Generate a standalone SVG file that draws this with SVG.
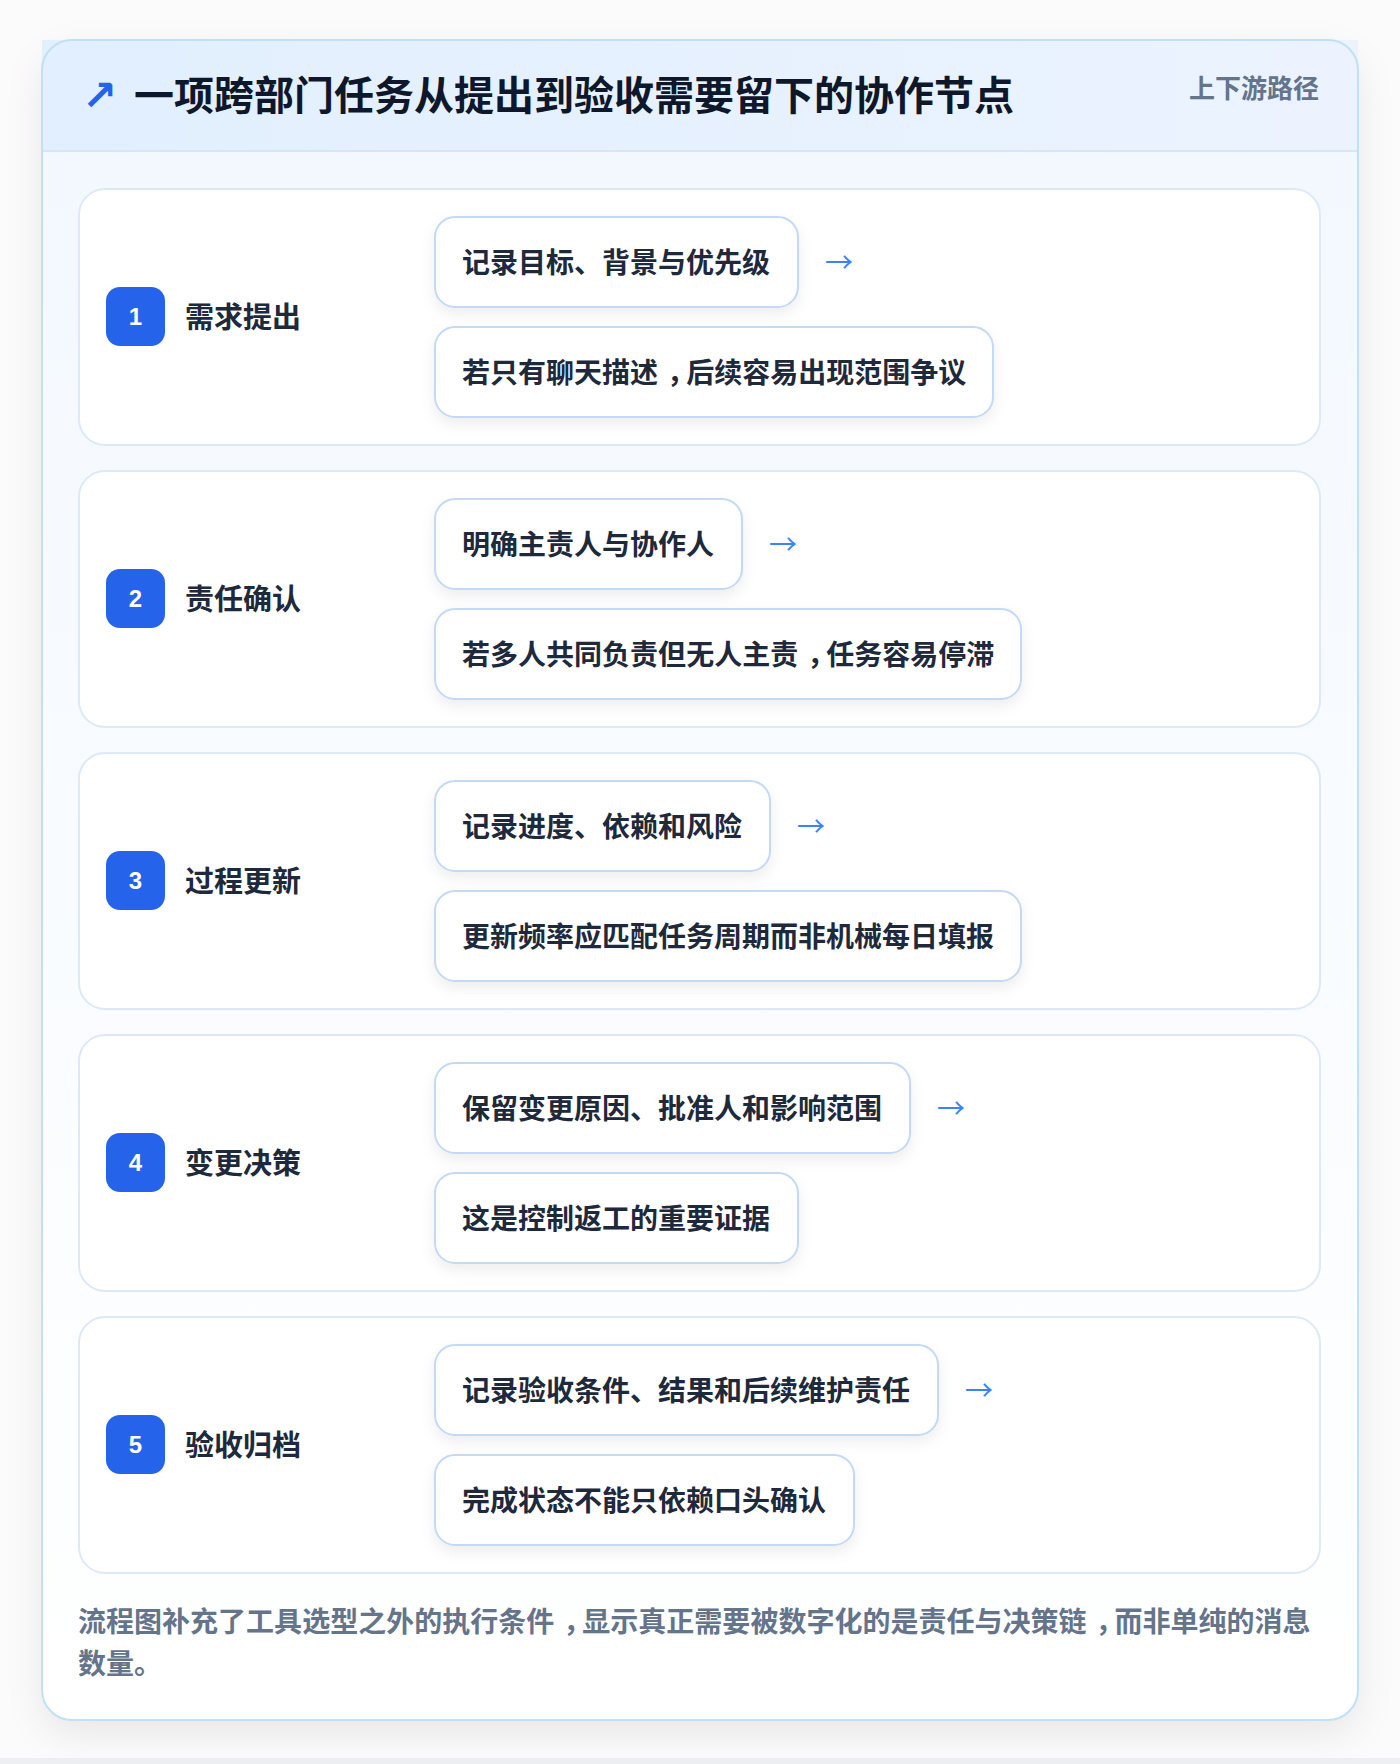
<svg xmlns="http://www.w3.org/2000/svg" width="1400" height="1764" viewBox="0 0 1400 1764">
<defs>
<linearGradient id="hdr" x1="0" y1="0" x2="1" y2="0"><stop offset="0" stop-color="#e1effe"/><stop offset="1" stop-color="#ecf3ff"/></linearGradient>
<linearGradient id="body" x1="0" y1="0" x2="0" y2="1"><stop offset="0" stop-color="#f2f8ff"/><stop offset="1" stop-color="#ffffff"/></linearGradient>
<filter id="cardShadow" x="-10%" y="-10%" width="120%" height="120%"><feDropShadow dx="0" dy="14" stdDeviation="18" flood-color="#0f172a" flood-opacity="0.08"/></filter>
<filter id="boxShadow" x="-10%" y="-20%" width="120%" height="150%"><feDropShadow dx="0" dy="6" stdDeviation="7" flood-color="#0f172a" flood-opacity="0.07"/></filter>
<style>
.row{fill:#ffffff;stroke:#dde9f8;stroke-width:2}
.box{fill:#ffffff;stroke:#c3d9f5;stroke-width:2;filter:url(#boxShadow)}
.badge{fill:#2563eb}
.num{font-family:"Liberation Sans",Arial,sans-serif;font-size:24px;font-weight:700;fill:#ffffff;text-anchor:middle}
.lbl{font-family:"Noto Sans CJK SC",sans-serif;font-size:29px;font-weight:700;fill:#1e293b}
.txt{font-family:"Noto Sans CJK SC",sans-serif;font-size:28px;font-weight:700;fill:#1e293b}
.arr{font-family:"Noto Sans CJK SC",sans-serif;font-size:28px;fill:#3b82f6}
.foot{font-family:"Noto Sans CJK SC",sans-serif;font-size:28px;font-weight:600;fill:#64748b}
</style>
</defs>
<rect x="0" y="0" width="1400" height="1764" fill="#fbfbfc"/>
<rect x="0" y="1758" width="1400" height="6" fill="#eeeff2"/>
<g id="card">
<rect x="42" y="40" width="1316" height="1680" rx="30" fill="url(#body)" filter="url(#cardShadow)"/>
<rect x="42" y="40" width="1316" height="111" fill="url(#hdr)"/>
<line x1="42" y1="151" x2="1358" y2="151" stroke="#d6e6f8" stroke-width="2"/>
<rect x="42" y="40" width="1316" height="1680" rx="30" fill="none" stroke="#c0e0f5" stroke-width="2"/>
<text x="82" y="110" font-family="'DejaVu Sans',sans-serif" font-size="42" font-weight="700" fill="#2563eb">↗</text>
<text x="134" y="110" font-family="'Noto Sans CJK SC',sans-serif" font-size="40" font-weight="700" fill="#0f172a">一项跨部门任务从提出到验收需要留下的协作节点</text>
<text x="1319" y="98" text-anchor="end" font-family="'Noto Sans CJK SC',sans-serif" font-size="26" font-weight="600" fill="#64748b">上下游路径</text>
</g>
<g id="row1">
<rect class="row" x="79" y="189" width="1241" height="256" rx="26"/>
<rect class="badge" x="106" y="287" width="59" height="59" rx="14"/>
<text class="num" x="135.5" y="325">1</text>
<text class="lbl" x="185" y="328">需求提出</text>
<rect class="box" x="435" y="217" width="363" height="90" rx="20"/>
<text class="txt" x="462" y="273">记录目标、背景与优先级</text>
<rect class="box" x="435" y="327" width="558" height="90" rx="20"/>
<text class="txt" x="462" y="383" dx="0 0 0 0 0 0 0 9 -9">若只有聊天描述，后续容易出现范围争议</text>
</g>
<g id="row2">
<rect class="row" x="79" y="471" width="1241" height="256" rx="26"/>
<rect class="badge" x="106" y="569" width="59" height="59" rx="14"/>
<text class="num" x="135.5" y="607">2</text>
<text class="lbl" x="185" y="610">责任确认</text>
<rect class="box" x="435" y="499" width="307" height="90" rx="20"/>
<text class="txt" x="462" y="555">明确主责人与协作人</text>
<rect class="box" x="435" y="609" width="586" height="90" rx="20"/>
<text class="txt" x="462" y="665" dx="0 0 0 0 0 0 0 0 0 0 0 0 9 -9">若多人共同负责但无人主责，任务容易停滞</text>
</g>
<g id="row3">
<rect class="row" x="79" y="753" width="1241" height="256" rx="26"/>
<rect class="badge" x="106" y="851" width="59" height="59" rx="14"/>
<text class="num" x="135.5" y="889">3</text>
<text class="lbl" x="185" y="892">过程更新</text>
<rect class="box" x="435" y="781" width="335" height="90" rx="20"/>
<text class="txt" x="462" y="837">记录进度、依赖和风险</text>
<rect class="box" x="435" y="891" width="586" height="90" rx="20"/>
<text class="txt" x="462" y="947">更新频率应匹配任务周期而非机械每日填报</text>
</g>
<g id="row4">
<rect class="row" x="79" y="1035" width="1241" height="256" rx="26"/>
<rect class="badge" x="106" y="1133" width="59" height="59" rx="14"/>
<text class="num" x="135.5" y="1171">4</text>
<text class="lbl" x="185" y="1174">变更决策</text>
<rect class="box" x="435" y="1063" width="475" height="90" rx="20"/>
<text class="txt" x="462" y="1119">保留变更原因、批准人和影响范围</text>
<rect class="box" x="435" y="1173" width="363" height="90" rx="20"/>
<text class="txt" x="462" y="1229">这是控制返工的重要证据</text>
</g>
<g id="row5">
<rect class="row" x="79" y="1317" width="1241" height="256" rx="26"/>
<rect class="badge" x="106" y="1415" width="59" height="59" rx="14"/>
<text class="num" x="135.5" y="1453">5</text>
<text class="lbl" x="185" y="1456">验收归档</text>
<rect class="box" x="435" y="1345" width="503" height="90" rx="20"/>
<text class="txt" x="462" y="1401">记录验收条件、结果和后续维护责任</text>
<rect class="box" x="435" y="1455" width="419" height="90" rx="20"/>
<text class="txt" x="462" y="1511">完成状态不能只依赖口头确认</text>
</g>
<g id="connectors">
<text class="arr" x="825" y="273">→</text>
<text class="arr" x="769" y="555">→</text>
<text class="arr" x="797" y="837">→</text>
<text class="arr" x="937" y="1119">→</text>
<text class="arr" x="965" y="1401">→</text>
</g>
<g id="footer">
<text class="foot" x="78" y="1632" dx="0 0 0 0 0 0 0 0 0 0 0 0 0 0 0 0 0 9 -9 0 0 0 0 0 0 0 0 0 0 0 0 0 0 0 0 0 9 -9">流程图补充了工具选型之外的执行条件，显示真正需要被数字化的是责任与决策链，而非单纯的消息</text>
<text class="foot" x="78" y="1674">数量。</text>
</g>
</svg>
